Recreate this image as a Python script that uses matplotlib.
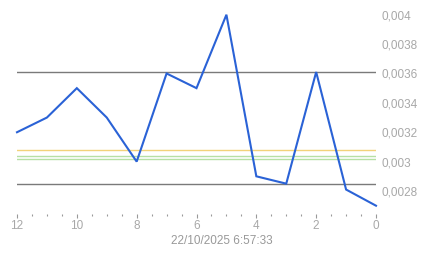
import numpy as np
import matplotlib
matplotlib.use("Agg")
import matplotlib.pyplot as plt
from matplotlib.ticker import MultipleLocator, FuncFormatter

# values, x runs from 12 down to 0
x_vals = [12, 11, 10, 9, 8, 7, 6, 5, 4, 3, 2, 1, 0]
y_vals = [0.0032, 0.0033, 0.0035, 0.0033, 0.0030, 0.0036, 0.0035,
          0.0040, 0.0029, 0.00285, 0.00361, 0.00281, 0.0027]

# horizontal reference lines
gray_levels = [0.00361, 0.00285]
orange_levels = [0.00308]
green_levels = [0.003037, 0.003017]

y_ticks = [0.0028, 0.0030, 0.0032, 0.0034, 0.0036, 0.0038, 0.0040]
date_label = "22/10/2025 6:57:33"

plt.rcParams['font.family'] = ['Liberation Sans', 'DejaVu Sans']

fig = plt.figure(figsize=(4.43, 2.58), dpi=100)
ax = fig.add_axes([17 / 443, 1 - 205.7 / 258, (376 - 17) / 443, (205.7 - 14.7) / 258])

for lv in gray_levels:
    ax.axhline(lv, color='#7a7a7a', lw=1.0, zorder=1)
for lv in orange_levels:
    ax.axhline(lv, color='#f2d27a', lw=1.0, zorder=1)
for lv in green_levels:
    ax.axhline(lv, color='#b6e0a4', lw=1.0, zorder=1)

ax.plot(x_vals, y_vals, color='#2a62d6', lw=1.5, zorder=3, clip_on=False,
        solid_joinstyle='miter')

ax.set_xlim(12, 0)
ax.set_ylim(0.0027, 0.0040)

for s in ax.spines.values():
    s.set_visible(False)
ax.spines['bottom'].set_position(('outward', 6))

ax.xaxis.set_major_locator(MultipleLocator(2))
ax.xaxis.set_minor_locator(MultipleLocator(0.5))
ax.tick_params(axis='x', which='major', length=3, width=0.8, color='#999999',
               labelcolor='#a8a8a8', labelsize=8.5, pad=1.5)
ax.tick_params(axis='x', which='minor', length=1.2, width=0.8, color='#999999')

ax.yaxis.tick_right()
ax.set_yticks(y_ticks)
ax.yaxis.set_major_formatter(FuncFormatter(lambda v, p: f"{v:.4f}".rstrip('0').replace('.', ',')))
ax.tick_params(axis='y', length=0, labelcolor='#a8a8a8', labelsize=8.5, pad=4)

fig.text(0.5, 1 - 240.7 / 258, date_label, ha='center', va='center',
         color='#999999', fontsize=8.5)

fig.savefig("out.png", dpi=100, facecolor='white')
